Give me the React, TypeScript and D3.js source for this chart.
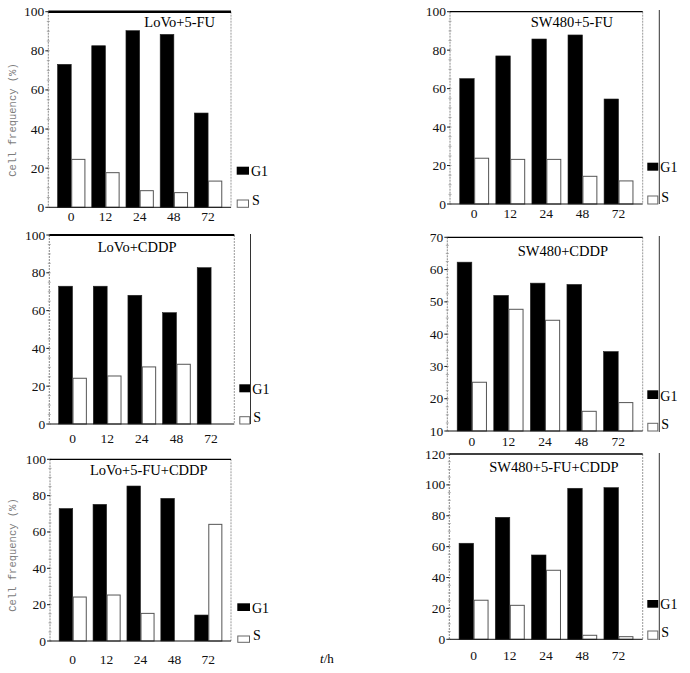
import React from "react";
import * as d3 from "d3";

const times = ["0", "12", "24", "48", "72"];
const seriesNames = ["G1", "S"];

const titles = ["LoVo+5-FU", "SW480+5-FU", "LoVo+CDDP", "SW480+CDDP", "LoVo+5-FU+CDDP", "SW480+5-FU+CDDP"];

const lovo5fuG1 = [73.1, 82.6, 90.3, 88.4, 48.2];
const lovo5fuS = [24.5, 17.7, 8.5, 7.5, 13.4];
const sw5fuG1 = [65.2, 77.0, 85.8, 87.9, 54.6];
const sw5fuS = [23.8, 23.2, 23.2, 14.4, 12.0];
const lovoCddpG1 = [72.9, 72.9, 68.1, 58.9, 82.7];
const lovoCddpS = [24.2, 25.4, 30.2, 31.6, 0];
const swCddpG1 = [62.3, 52.0, 55.8, 55.4, 34.6];
const swCddpS = [25.1, 47.7, 44.3, 16.1, 18.8];
const lovoBothG1 = [72.9, 75.2, 85.3, 78.5, 14.3];
const lovoBothS = [24.2, 25.3, 15.2, 0, 64.2];
const swBothG1 = [62.2, 79.0, 54.6, 97.8, 98.2];
const swBothS = [25.3, 22.0, 44.7, 2.6, 1.7];

const ticks100 = [0, 20, 40, 60, 80, 100];
const ticks70 = [10, 20, 30, 40, 50, 60, 70];
const ticks120 = [0, 20, 40, 60, 80, 100, 120];

const yLabel = "Cell frequency (%)";

type Layout = {
  left: number; top: number; right: number; bottom: number;
  titleX: number; titleY: number; topW: number;
  legX: number; legW: number; g1Y: number; g1H: number; sY: number; sH: number;
  tickY: number; extraX?: number; extraTop?: number; extraBottom?: number;
  yLabelY?: number;
};

const panels = [
  { g1: lovo5fuG1, s: lovo5fuS, ticks: ticks100, title: titles[0],
    L: { left: 48.3, top: 11.7, right: 231, bottom: 207.3, titleX: 144.3, titleY: 26.5, topW: 2.5,
      legX: 236.7, legW: 12.3, g1Y: 166.7, g1H: 8, sY: 200, sH: 7.3, tickY: 221, yLabelY: 120 } as Layout },
  { g1: sw5fuG1, s: sw5fuS, ticks: ticks100, title: titles[1],
    L: { left: 450, top: 11.7, right: 642.7, bottom: 204, titleX: 530.7, titleY: 26.5, topW: 1.2,
      legX: 647.3, legW: 11, g1Y: 162.7, g1H: 8, sY: 196, sH: 8, tickY: 218,
      extraX: 659.3, extraTop: 10, extraBottom: 204 } as Layout },
  { g1: lovoCddpG1, s: lovoCddpS, ticks: ticks100, title: titles[2],
    L: { left: 49.3, top: 235, right: 234.3, bottom: 424, titleX: 97.7, titleY: 251.5, topW: 2,
      legX: 239.3, legW: 11, g1Y: 384.3, g1H: 8, sY: 416.7, sH: 7.3, tickY: 443,
      extraX: 250.5, extraTop: 234, extraBottom: 424 } as Layout },
  { g1: swCddpG1, s: swCddpS, ticks: ticks70, title: titles[3],
    L: { left: 447.3, top: 237.3, right: 642.7, bottom: 431, titleX: 517.7, titleY: 256, topW: 1.2,
      legX: 647.3, legW: 11, g1Y: 390.3, g1H: 8.7, sY: 423.3, sH: 7.7, tickY: 446,
      extraX: 659.3, extraTop: 236, extraBottom: 432 } as Layout },
  { g1: lovoBothG1, s: lovoBothS, ticks: ticks100, title: titles[4],
    L: { left: 50, top: 459.3, right: 231, bottom: 641, titleX: 90, titleY: 475, topW: 1.2,
      legX: 237.3, legW: 12.7, g1Y: 603.3, g1H: 7.7, sY: 636, sH: 6.3, tickY: 664, yLabelY: 555 } as Layout },
  { g1: swBothG1, s: swBothS, ticks: ticks120, title: titles[5],
    L: { left: 449.3, top: 454, right: 642.7, bottom: 639.3, titleX: 489.3, titleY: 471.5, topW: 1.5,
      legX: 647.3, legW: 11, g1Y: 600, g1H: 7.7, sY: 631, sH: 8.3, tickY: 660,
      extraX: 659.3, extraTop: 453, extraBottom: 640 } as Layout },
];

const serif = "'Liberation Serif', 'Times New Roman', serif";

function Panel({ g1, s, ticks, title, L }: { g1: number[]; s: number[]; ticks: number[]; title: string; L: Layout }) {
  const x = d3.scalePoint<string>().domain(times).range([L.left, L.right]).padding(0.67);
  const y = d3.scaleLinear().domain([ticks[0], ticks[ticks.length - 1]]).range([L.bottom, L.top]);
  const bw = x.step() * 0.4;
  const tickStep = ticks[1] - ticks[0];
  const minor = d3.range(ticks[0], ticks[ticks.length - 1] + 0.001, tickStep / 4);
  return (
    <g>
      {/* left axis (dotted grey) */}
      <line x1={L.left} x2={L.left} y1={L.top} y2={L.bottom} stroke="#888" strokeWidth={1} strokeDasharray="2,1" />
      {minor.map((m, i) => (
        <line key={"m" + i} x1={L.left - 1.5} x2={L.left + 1.5} y1={y(m)} y2={y(m)} stroke="#999" strokeWidth={0.8} />
      ))}
      {ticks.map((t) => (
        <g key={"t" + t}>
          <line x1={L.left - 3} x2={L.left} y1={y(t)} y2={y(t)} stroke="#222" strokeWidth={1} />
          <text x={L.left - 4} y={y(t) + 4.5} textAnchor="end" fontFamily={serif} fontSize={13.5} fill="#111">{t}</text>
        </g>
      ))}
      {/* right border dotted */}
      <line x1={L.right} x2={L.right} y1={L.top} y2={L.bottom} stroke="#999" strokeWidth={1} strokeDasharray="2,1" />
      {/* bars */}
      {times.map((c, i) => (
        <g key={"b" + c}>
          <rect x={(x(c) as number) - bw} y={y(g1[i])} width={bw} height={Math.max(0, L.bottom - y(g1[i]))} fill="#000" stroke="#222" strokeWidth={0.6} />
          {s[i] > 0 && (
            <rect x={(x(c) as number) + 0.5} y={y(s[i])} width={bw - 0.5} height={Math.max(0, L.bottom - y(s[i]))} fill="#fff" stroke="#555" strokeWidth={1} />
          )}
          <text x={x(c) as number} y={L.tickY} textAnchor="middle" fontFamily={serif} fontSize={13.5} fill="#111">{c}</text>
        </g>
      ))}
      {/* top border */}
      <line x1={L.left} x2={L.right} y1={L.top} y2={L.top} stroke="#000" strokeWidth={L.topW} />
      {/* bottom axis */}
      <line x1={L.left} x2={L.right} y1={L.bottom} y2={L.bottom} stroke="#111" strokeWidth={1} />
      <text x={L.titleX} y={L.titleY} fontFamily={serif} fontSize={14.5} fill="#000">{title}</text>
      {/* legend */}
      <rect x={L.legX} y={L.g1Y} width={L.legW} height={L.g1H} fill="#000" />
      <text x={L.legX + L.legW + 2} y={L.g1Y + L.g1H + 1.5} fontFamily={serif} fontSize={14} fill="#000">{seriesNames[0]}</text>
      <rect x={L.legX + 0.5} y={L.sY} width={L.legW - 1} height={L.sH} fill="#fff" stroke="#666" strokeWidth={1} />
      <text x={L.legX + L.legW + 3} y={L.sY + L.sH - 2.5} fontFamily={serif} fontSize={14} fill="#000">{seriesNames[1]}</text>
      {L.extraX !== undefined && (
        <line x1={L.extraX} x2={L.extraX} y1={L.extraTop} y2={L.extraBottom} stroke="#333" strokeWidth={1} />
      )}
      {L.yLabelY !== undefined && (
        <text transform={`translate(16,${L.yLabelY}) rotate(-90)`} textAnchor="middle"
          fontFamily="'Liberation Mono', 'DejaVu Sans Mono', monospace" fontSize={10.5} fill="#7d7d7d">{yLabel}</text>
      )}
    </g>
  );
}

export default function App() {
  return (
    <svg width={690} height={673} style={{ position: "absolute", left: 0, top: 0, background: "#fff" }}>
      <rect x={0} y={0} width={690} height={673} fill="#fff" />
      {panels.map((p, i) => (
        <Panel key={i} g1={p.g1} s={p.s} ticks={p.ticks} title={p.title} L={p.L} />
      ))}
      <text x={320} y={663} fontFamily={serif} fontSize={13} fill="#000">
        <tspan fontStyle="italic">t</tspan>/h
      </text>
    </svg>
  );
}
